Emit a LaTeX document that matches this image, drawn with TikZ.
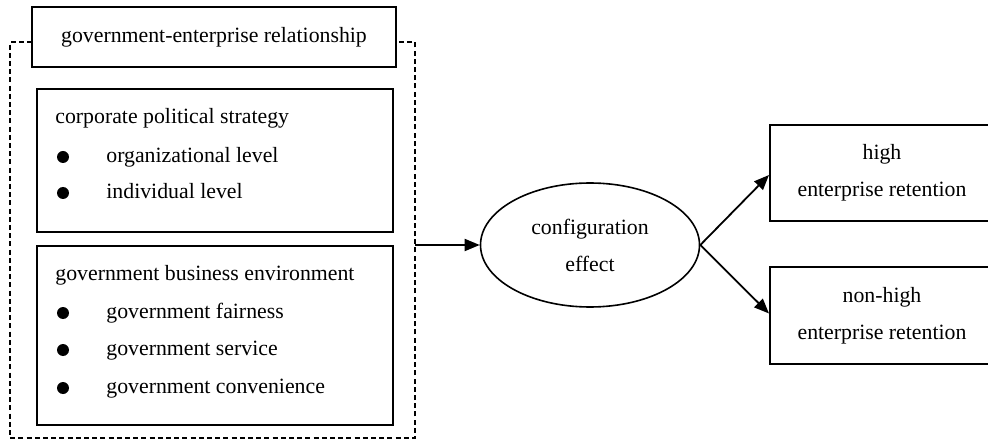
\documentclass[tikz,border=0pt]{standalone}
\usepackage{fontspec}
\setmainfont{Liberation Serif}
\usetikzlibrary{positioning,arrows.meta,calc,shapes.geometric}

\begin{document}
\begin{tikzpicture}[x=0.5pt,y=-0.5pt,
  every node/.append style={font=\fontsize{10.9}{18.5}\selectfont},
  box/.style={draw,line width=1pt,inner sep=0pt,align=center},
  txt/.style={anchor=west,inner sep=0pt,text height=7.6pt,text depth=2.4pt},
  dot/.style={circle,fill,inner sep=0pt,minimum size=6pt},
  frame/.style={line width=0.6pt,dash pattern=on 2.5pt off 1.6pt},
  flow/.style={-{Triangle[length=7.5pt,width=6pt]},line width=0.9pt}]
  \useasboundingbox (0,0) rectangle (988,448);

  % left block
  \draw[frame] (32,42) -- (10,42) -- (10,438) -- (415,438) -- (415,42) -- (396,42);
  \node[box,fill=white,minimum width=182pt,minimum height=30pt] (gerel) at (214,37)
     {government-enterprise relationship};

  \node[box,minimum width=178pt,minimum height=71.5pt] (cps) at (215,160.5) {};
  \node[txt] (cpstitle) at (55,118) {corporate political strategy};
  \node[dot] (d1) at (63,157) {};
  \node[txt] (orglevel) at (106,157) {organizational level};
  \node[dot] (d2) at (63,193) {};
  \node[txt] (indlevel) at (106,193) {individual level};

  \node[box,minimum width=178pt,minimum height=89.5pt] (gbe) at (215,335.5) {};
  \node[txt] (gbetitle) at (55,275) {government business environment};
  \node[dot] (d3) at (63,313) {};
  \node[txt] (fair) at (106,313) {government fairness};
  \node[dot] (d4) at (63,350) {};
  \node[txt] (serv) at (106,350) {government service};
  \node[dot] (d5) at (63,388) {};
  \node[txt] (conv) at (106,388) {government convenience};

  % middle and right
  \node[ellipse,draw,line width=0.8pt,inner sep=0pt,minimum width=109.5pt,
     minimum height=62pt,align=center] (conf) at (590,245) {configuration\\effect};
  \node[box,minimum width=112pt,minimum height=48pt] (high) at (882,173)
     {high\\enterprise retention};
  \node[box,minimum width=112pt,minimum height=48.5pt] (nonhigh) at (882,315.5)
     {non-high\\enterprise retention};

  \coordinate (out) at (415,245);
  \draw[flow] (out) -- (conf.west);
  \draw[flow] (conf.east) -- ([yshift=-1pt]high.west);
  \draw[flow] (conf.east) -- ([yshift=1pt]nonhigh.west);
\end{tikzpicture}
\end{document}
